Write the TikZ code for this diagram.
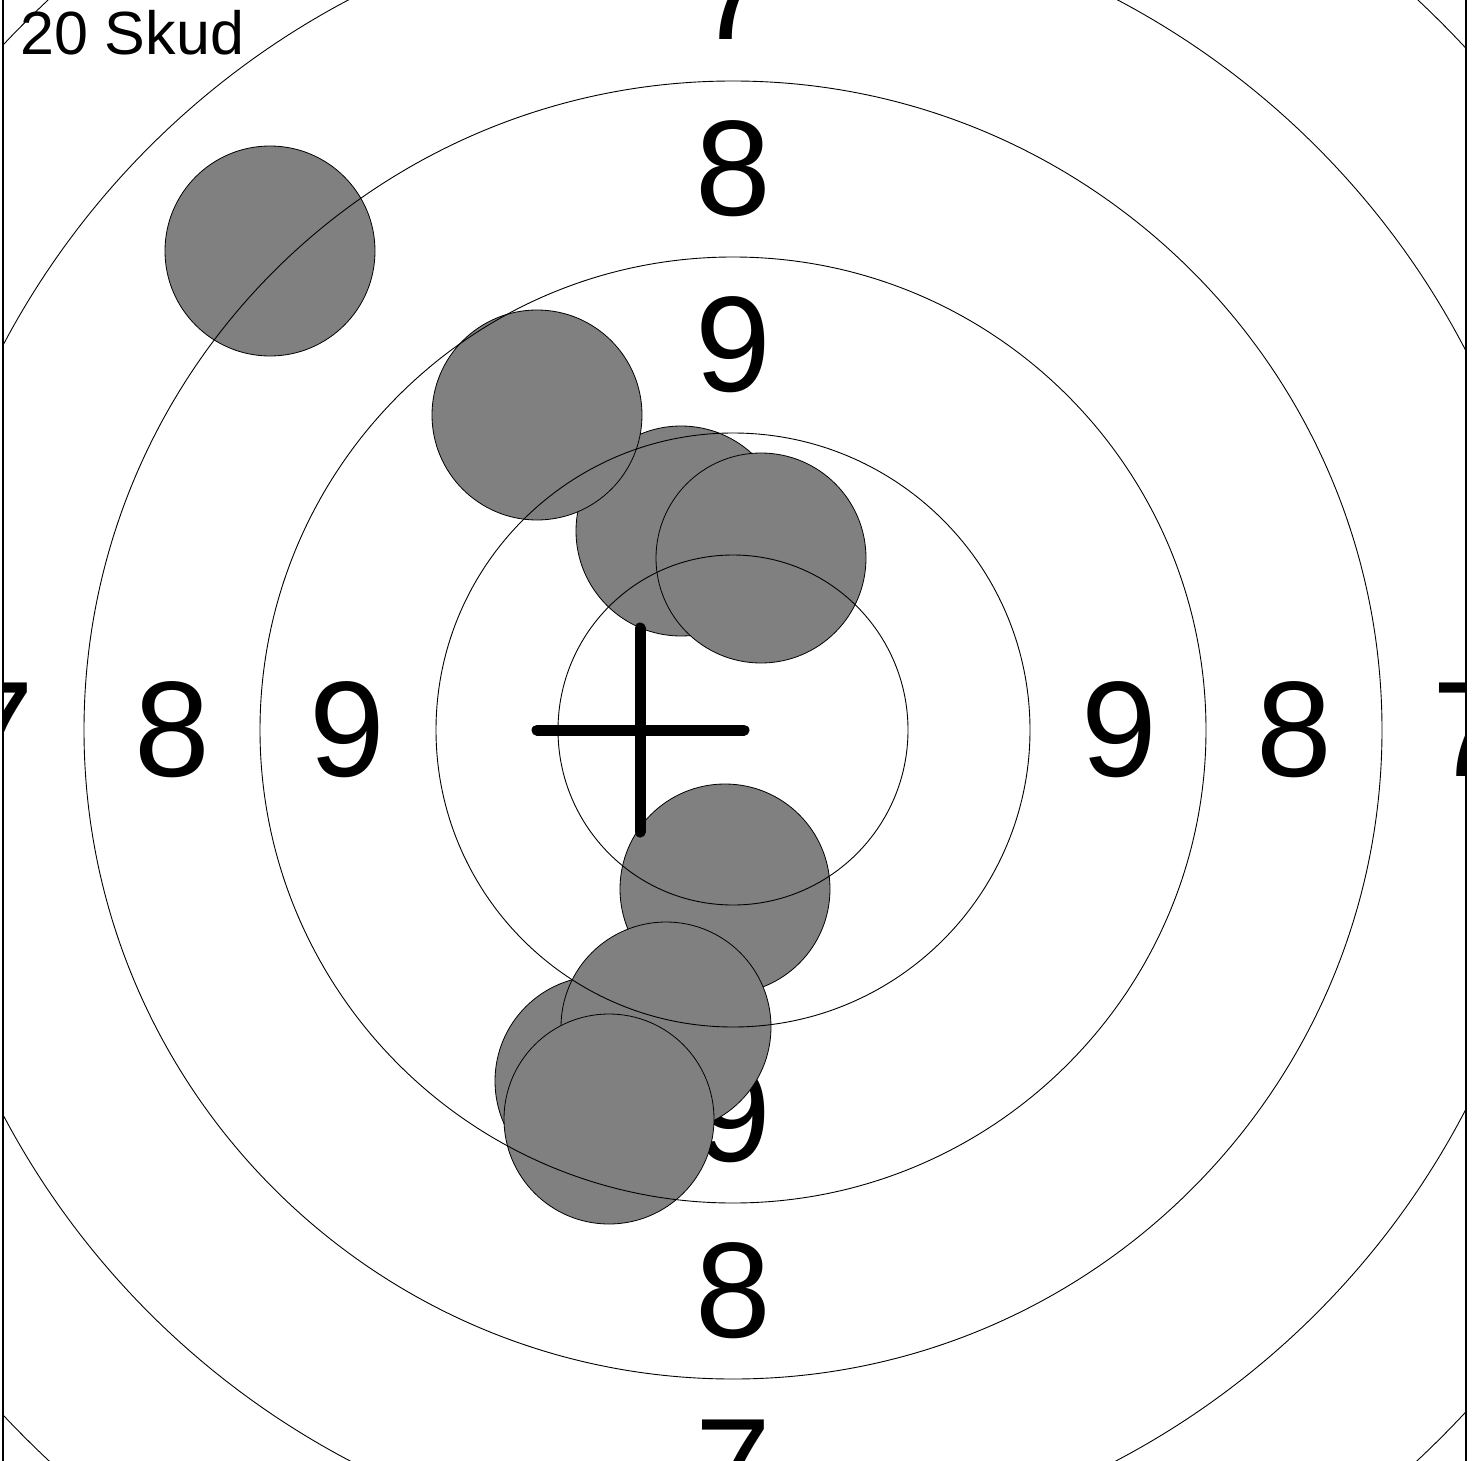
\documentclass[tikz,border=0pt]{standalone}
\usepackage{fontspec}
\setmainfont{Liberation Sans}

\begin{document}
\begin{tikzpicture}[x=1pt, y=-1pt,
  ring/.style={draw=black, line width=0.9pt},
  shot/.style={circle, draw=black, line width=0.8pt, fill=gray, minimum size=210pt, inner sep=0pt},
  score/.style={font=\fontsize{136}{136}\selectfont, inner sep=0pt},
  aim/.style={line width=11pt, line cap=round}]
  \useasboundingbox (0,0) rectangle (1473,1461);
  \begin{scope}
    \clip (3,0) rectangle (1466,1461);
    % ring numbers
    \node[score] (s7w) at (-4,730) {7};
    \node[score] (s8w) at (172,730) {8};
    \node[score] (s9w) at (347,730) {9};
    \node[score] (s9e) at (1119,730) {9};
    \node[score] (s8e) at (1294,730) {8};
    \node[score] (s7e) at (1470,730) {7};
    \node[score] (s7n) at (733,-7) {7};
    \node[score] (s8n) at (733,169) {8};
    \node[score] (s9n) at (733,345) {9};
    \node[score] (s9s) at (733,1115) {9};
    \node[score] (s8s) at (733,1291) {8};
    \node[score] (s7s) at (733,1467) {7};
    % hits
    \node[shot] (hit1) at (270,251) {};
    \node[shot] (hit3) at (681,531) {};
    \node[shot] (hit2) at (537,415) {};
    \node[shot] (hit4) at (761,558) {};
    \node[shot] (hit5) at (725,889) {};
    \node[shot] (hit7) at (600,1081) {};
    \node[shot] (hit6) at (666,1027) {};
    \node[shot] (hit8) at (609,1119) {};
    % rings
    \coordinate (centre) at (733,730);
    \draw[ring] (centre) circle[radius=175pt];
    \draw[ring] (centre) circle[radius=297pt];
    \draw[ring] (centre) circle[radius=473pt];
    \draw[ring] (centre) circle[radius=649pt];
    \draw[ring] (centre) circle[radius=825pt];
    \draw[ring] (centre) circle[radius=1001pt];
  \end{scope}
  % mean point of impact
  \coordinate (mpi) at (640,730);
  \draw[aim] (640,628) -- (640,832);
  \draw[aim] (537,730) -- (744,730);
  \draw[line width=2pt] (3,0) -- (3,1461);
  \draw[line width=2pt] (1466,0) -- (1466,1461);
  \node[anchor=base west, font=\fontsize{61}{61}\selectfont, inner sep=0pt] (count) at (20,55) {20 Skud};
\end{tikzpicture}
\end{document}
